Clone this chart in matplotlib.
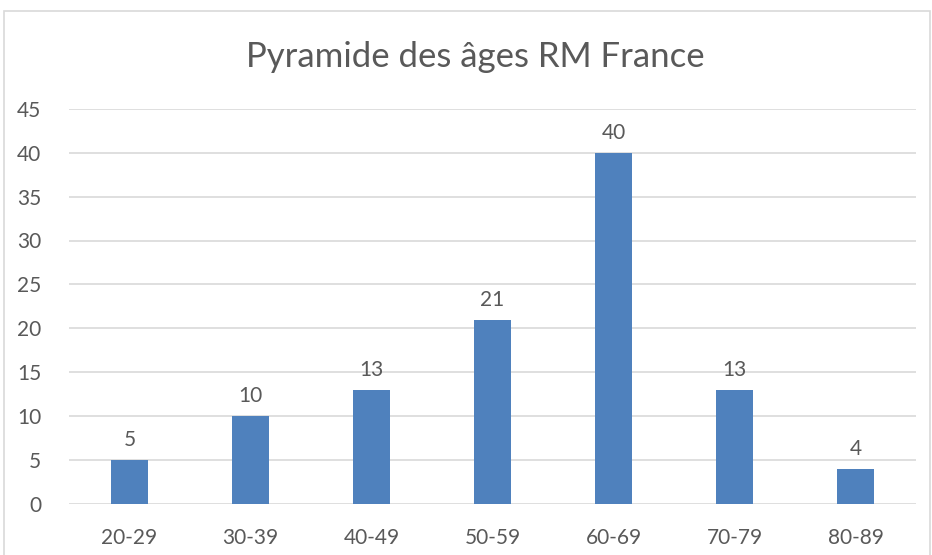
import matplotlib
matplotlib.use("Agg")
import matplotlib.pyplot as plt
from matplotlib.patches import Rectangle

# Age groups and counts
categories = ["20-29", "30-39", "40-49", "50-59", "60-69", "70-79", "80-89"]
values = [5, 10, 13, 21, 40, 13, 4]

plt.rcParams['font.family'] = ['Lato', 'DejaVu Sans']
textColor = '#595959'

fig = plt.figure(figsize=(9.32, 5.55), dpi=100)
ax = fig.add_axes([0.074, 0.092, 0.909, 0.712])

x = range(len(categories))
bars = ax.bar(x, values, width=0.31, color='#4F81BD', zorder=3)
for rect, v in zip(bars, values):
    ax.text(rect.get_x() + rect.get_width() / 2, v + 1.1, str(v),
            ha='center', va='bottom', fontsize=15, color=textColor)

ax.set_xlim(-0.5, len(categories) - 0.5)
ax.set_ylim(0, 45)
ax.set_yticks(range(0, 46, 5))
ax.set_xticks(list(x))
ax.set_xticklabels(categories)
ax.tick_params(axis='both', length=0, labelsize=15, colors=textColor)
ax.tick_params(axis='x', pad=17)
ax.tick_params(axis='y', pad=20)
ax.grid(axis='y', color='#D9D9D9', linewidth=1.2, zorder=0)
for s in ax.spines.values():
    s.set_visible(False)

fig.text(475 / 932, 1 - 57 / 555, "Pyramide des âges RM France",
         ha='center', va='center', fontsize=25, color=textColor)

# chart area border
fig.patches.append(Rectangle((4 / 932, -0.01), 926 / 932, 1 - 11 / 555 + 0.01,
                             transform=fig.transFigure, fill=False,
                             edgecolor='#D9D9D9', linewidth=1.2))

fig.savefig("out.png", dpi=100)
